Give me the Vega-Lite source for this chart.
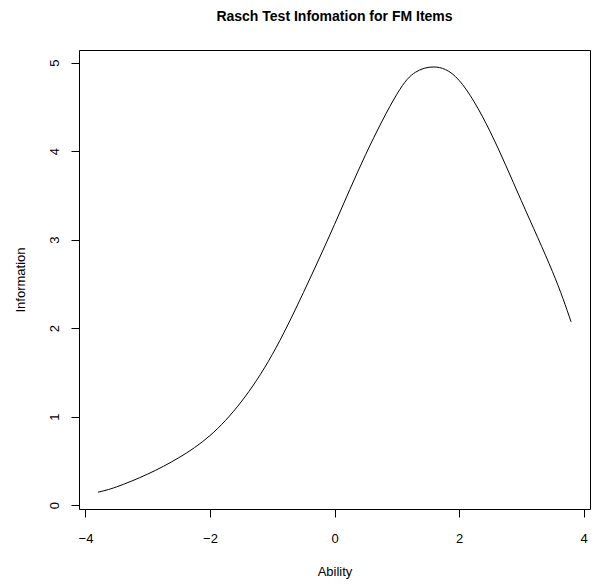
{
  "$schema": "https://vega.github.io/schema/vega-lite/v6.json",
  "width": 511,
  "height": 459,
  "autosize": {"type": "none"},
  "padding": {"left": 79, "top": 50, "right": 4, "bottom": 75},
  "background": "white",
  "title": {
    "text": "Rasch Test Infomation for FM Items",
    "font": "Liberation Sans",
    "fontSize": 14,
    "fontWeight": "bold",
    "color": "black",
    "anchor": "middle",
    "frame": "group",
    "offset": 26
  },
  "config": {
    "view": {"stroke": "black", "strokeWidth": 1},
    "axis": {
      "grid": false,
      "domain": false,
      "tickColor": "black",
      "tickSize": 8,
      "tickWidth": 1,
      "labelFont": "Liberation Sans",
      "labelFontSize": 13,
      "labelColor": "black",
      "titleFont": "Liberation Sans",
      "titleFontSize": 13,
      "titleFontWeight": "normal",
      "titleColor": "black"
    }
  },
  "data": {
    "values": [
      {"ability": -3.8, "info": 0.145},
      {"ability": -3.5, "info": 0.205},
      {"ability": -3.0, "info": 0.35},
      {"ability": -2.5, "info": 0.535},
      {"ability": -2.0, "info": 0.785},
      {"ability": -1.5, "info": 1.165},
      {"ability": -1.0, "info": 1.7},
      {"ability": -0.5, "info": 2.4},
      {"ability": 0.0, "info": 3.17},
      {"ability": 0.5, "info": 3.96},
      {"ability": 1.0, "info": 4.64},
      {"ability": 1.3, "info": 4.89},
      {"ability": 1.6, "info": 4.95},
      {"ability": 2.0, "info": 4.8},
      {"ability": 2.5, "info": 4.22},
      {"ability": 3.0, "info": 3.44},
      {"ability": 3.5, "info": 2.64},
      {"ability": 3.8, "info": 2.07}
    ]
  },
  "mark": {"type": "line", "color": "black", "strokeWidth": 1, "interpolate": "natural", "clip": true},
  "encoding": {
    "x": {
      "field": "ability",
      "type": "quantitative",
      "scale": {"domain": [-4.104, 4.104], "nice": false, "zero": false},
      "axis": {
        "values": [-4, -2, 0, 2, 4],
        "title": "Ability",
        "labelPadding": 15,
        "titleX": 255.5,
        "titleY": 62,
        "titleBaseline": "middle",
        "titleAlign": "center"
      }
    },
    "y": {
      "field": "info",
      "type": "quantitative",
      "scale": {"domain": [-0.045, 5.142], "nice": false, "zero": false},
      "axis": {
        "values": [0, 1, 2, 3, 4, 5],
        "title": "Information",
        "labelAngle": -90,
        "labelAlign": "center",
        "labelBaseline": "bottom",
        "labelPadding": 10,
        "titleX": -59,
        "titleY": 229.5,
        "titleAngle": -90,
        "titleBaseline": "middle",
        "titleAlign": "center"
      }
    }
  }
}
